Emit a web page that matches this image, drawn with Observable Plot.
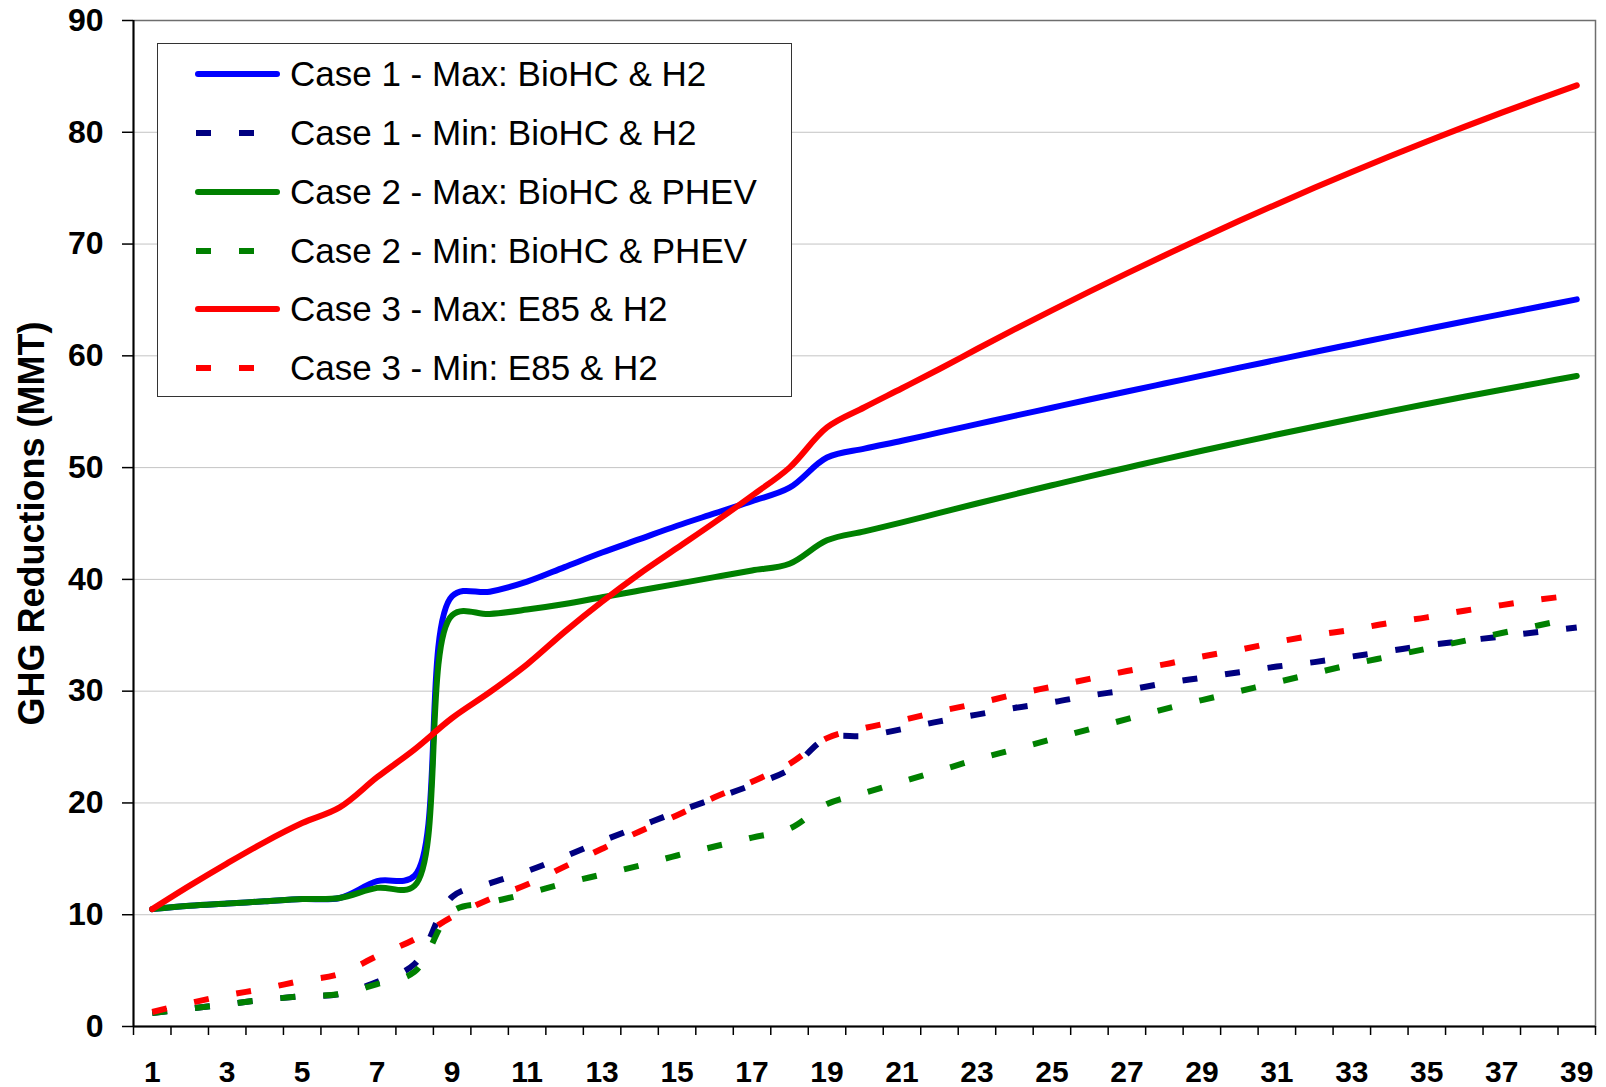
<!DOCTYPE html>
<html>
<head>
<meta charset="utf-8">
<script src="https://cdn.jsdelivr.net/npm/d3@7"></script>
<script src="https://cdn.jsdelivr.net/npm/@observablehq/plot@0.6"></script>
<style>
  html, body { margin: 0; padding: 0; background: #ffffff; }
  #wrap { position: relative; width: 1606px; height: 1087px; overflow: hidden; }
  #wrap > svg { position: absolute; left: 0; top: 0; }
  #legend {
    position: absolute; left: 157px; top: 43px; width: 635px; height: 354px;
    box-sizing: border-box; border: 1.5px solid #333; background: #fff;
    font-family: "Liberation Sans", Arial, sans-serif; font-size: 35px; color: #000;
  }
  #legend .lrow { position: absolute; left: 0; height: 40px; line-height: 40px; width: 630px; white-space: nowrap; }
  #legend .lrow svg { position: absolute; left: 30px; top: 0; }
  #legend .lrow span { position: absolute; left: 132px; top: 0; }
</style>
</head>
<body>
<div id="wrap"><div id="legend"></div></div>
<script>
// ---- data ----
const periods = [1,2,3,4,5,6,7,8,9,10,11,12,13,14,15,16,17,18,19,20,21,22,23,24,25,26,27,28,29,30,31,32,33,34,35,36,37,38,39];

const case1Max = [10.5,10.8,11.0,11.2,11.4,11.5,13.0,13.5,38.5,38.9,39.8,41.1,42.4,43.6,44.8,45.9,47.0,48.2,50.9,51.7,52.4,53.15,53.89,54.63,55.36,56.09,56.81,57.52,58.23,58.94,59.64,60.34,61.03,61.72,62.40,63.07,63.73,64.39,65.05];
const case1Min = [1.2,1.6,2.0,2.4,2.7,2.9,4.0,5.6,11.6,12.8,13.9,15.2,16.6,17.9,19.2,20.4,21.6,23.0,25.8,26.0,26.6,27.3,27.9,28.5,29.0,29.6,30.1,30.7,31.2,31.7,32.2,32.6,33.1,33.6,34.1,34.5,34.9,35.3,35.7];
const case2Max = [10.5,10.8,11.0,11.2,11.4,11.5,12.4,12.6,36.8,36.9,37.3,37.8,38.4,39.0,39.6,40.2,40.8,41.4,43.5,44.3,45.1,45.95,46.79,47.61,48.42,49.22,49.99,50.76,51.51,52.24,52.96,53.66,54.35,55.03,55.69,56.34,56.97,57.58,58.2];
const case2Min = [1.2,1.6,2.0,2.4,2.7,2.9,3.8,4.9,10.3,11.1,11.9,12.8,13.6,14.4,15.3,16.1,16.9,17.7,19.9,20.9,21.9,22.9,23.9,24.8,25.7,26.6,27.5,28.4,29.2,30.0,30.8,31.6,32.4,33.1,33.8,34.5,35.2,35.9,36.6];
const case3Max = [10.5,12.6,14.6,16.5,18.2,19.6,22.3,24.8,27.6,29.9,32.4,35.3,38.0,40.5,42.8,45.1,47.5,50.0,53.6,55.4,57.1,58.82,60.61,62.36,64.07,65.74,67.38,68.98,70.55,72.08,73.57,75.03,76.45,77.83,79.17,80.48,81.76,82.99,84.2];
const case3Min = [1.3,2.1,2.8,3.4,4.1,4.7,6.3,7.8,9.8,11.4,12.7,14.3,15.9,17.45,18.9,20.5,21.9,23.5,25.8,26.7,27.4,28.2,28.9,29.7,30.4,31.1,31.8,32.4,33.1,33.7,34.4,35.0,35.5,36.1,36.6,37.2,37.7,38.2,38.6];

const seriesNames = [
  "Case 1 - Max: BioHC & H2",
  "Case 1 - Min: BioHC & H2",
  "Case 2 - Max: BioHC & PHEV",
  "Case 2 - Min: BioHC & PHEV",
  "Case 3 - Max: E85 & H2",
  "Case 3 - Min: E85 & H2"
];
const seriesValues = [case1Max, case1Min, case2Max, case2Min, case3Max, case3Min];
const seriesColors = ["#0000FF", "#000080", "#008000", "#008000", "#FF0000", "#FF0000"];
const seriesDashed = [false, true, false, true, false, true];

const yTicks = [0,10,20,30,40,50,60,70,80,90];
const xTickLabels = [1,3,5,7,9,11,13,15,17,19,21,23,25,27,29,31,33,35,37,39];
const yTitle = "GHG Reductions (MMT)";

// ---- build ----
const xBoundaries = d3.range(0, periods.length + 1).map(i => i + 0.5);
const font = "'Liberation Sans', Arial, sans-serif";

const lineMarks = seriesValues.map((vals, s) => {
  const rows = periods.map((p, i) => ({x: p, y: vals[i]}));
  return Plot.line(rows, {
    x: "x", y: "y",
    stroke: seriesColors[s],
    strokeWidth: 6,
    curve: "catmull-rom",
    strokeLinecap: seriesDashed[s] ? "butt" : "round",
    strokeLinejoin: "round",
    strokeDasharray: seriesDashed[s] ? "15,28" : null
  });
});

const chart = Plot.plot({
  width: 1606,
  height: 1087,
  marginLeft: 133,
  marginRight: 11,
  marginTop: 20,
  marginBottom: 61,
  x: {domain: [0.5, 39.5]},
  y: {domain: [0, 90]},
  style: {fontFamily: font, background: "transparent", color: "#000"},
  marks: [
    Plot.gridY(yTicks, {stroke: "#c4c4c4", strokeOpacity: 1, strokeWidth: 1}),
    Plot.frame({stroke: "#6e6e6e", strokeWidth: 1.5}),
    Plot.axisY(yTicks, {tickSize: 11, tickPadding: 19, fontSize: 32, fontWeight: "bold", label: null, strokeWidth: 1.5}),
    Plot.axisX(xBoundaries, {tickSize: 9, tickFormat: () => "", label: null, strokeWidth: 1.5}),
    Plot.axisX(xTickLabels, {tickSize: 0, tickPadding: 34, fontSize: 30, fontWeight: "bold", label: null}),
    Plot.ruleY([0], {stroke: "#000", strokeWidth: 2}),
    Plot.ruleX([0.5], {stroke: "#000", strokeWidth: 2}),
    Plot.text([yTitle], {frameAnchor: "left", textAnchor: "middle", dx: -101, rotate: -90, fontSize: 36, fontWeight: "bold", fill: "#000"}),
    ...lineMarks
  ]
});
document.getElementById("wrap").insertBefore(chart, document.getElementById("legend"));

// ---- legend (HTML overlay) ----
const legend = document.getElementById("legend");
const rowCenters = [29.7, 89.1, 147.8, 206.9, 265.3, 323.7];
seriesNames.forEach((name, s) => {
  const row = document.createElement("div");
  row.className = "lrow";
  row.style.top = (rowCenters[s] - 20) + "px";
  const ns = "http://www.w3.org/2000/svg";
  const svg = document.createElementNS(ns, "svg");
  svg.setAttribute("width", "100");
  svg.setAttribute("height", "40");
  const ln = document.createElementNS(ns, "line");
  ln.setAttribute("y1", "20"); ln.setAttribute("y2", "20");
  ln.setAttribute("stroke", seriesColors[s]);
  ln.setAttribute("stroke-width", "6");
  if (seriesDashed[s]) {
    ln.setAttribute("x1", "8"); ln.setAttribute("x2", "70");
    ln.setAttribute("stroke-dasharray", "15,28");
    ln.setAttribute("stroke-linecap", "butt");
  } else {
    ln.setAttribute("x1", "10"); ln.setAttribute("x2", "89");
    ln.setAttribute("stroke-linecap", "round");
  }
  svg.appendChild(ln);
  const span = document.createElement("span");
  span.textContent = name;
  row.appendChild(svg);
  row.appendChild(span);
  legend.appendChild(row);
});
</script>
</body>
</html>
